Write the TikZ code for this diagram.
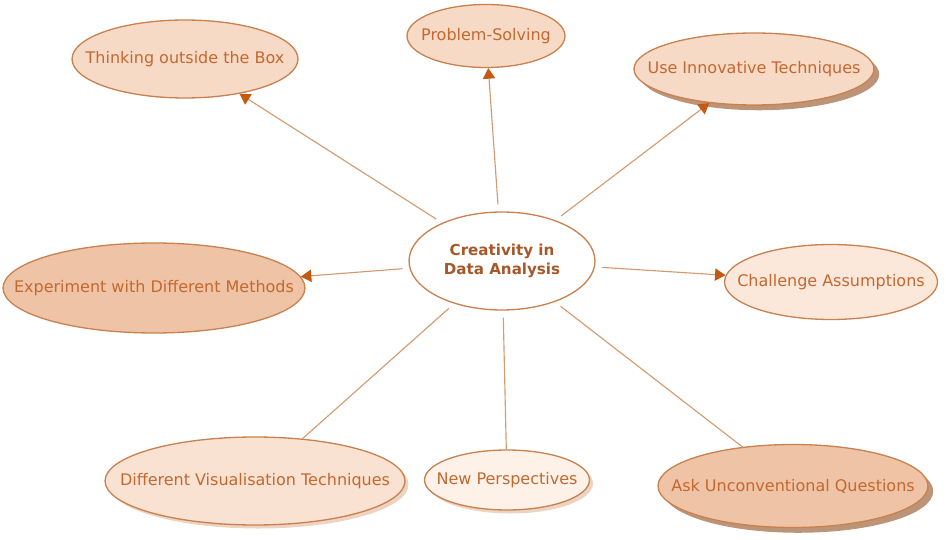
\documentclass[tikz,border=0pt]{standalone}
\usepackage{fontspec}
\setmainfont{DejaVu Sans}
\usepackage{xcolor}
\usetikzlibrary{arrows.meta, shapes.geometric, shadows}

\definecolor{rim}{HTML}{C8814F}
\definecolor{ink}{HTML}{C4682F}
\definecolor{wire}{HTML}{D49B72}
\definecolor{tip}{HTML}{C45A12}
\definecolor{fillA}{HTML}{F7DAC6}
\definecolor{fillB}{HTML}{EFC4A6}
\definecolor{fillC}{HTML}{FCE8DA}
\definecolor{fillD}{HTML}{FDF1E8}
\definecolor{fillE}{HTML}{F9E2D2}

% text that does not widen its ellipse
\newcommand{\ideatext}[1]{\makebox[0pt]{#1}}

\begin{document}
\begin{tikzpicture}[x=0.02cm, y=-0.02cm,
    every node/.style={font=\fontsize{9.1}{11}\selectfont},
    idea/.style={ellipse, draw=rim, line width=0.75pt, inner sep=0pt, text=ink, align=center},
    hub/.style={idea, fill=white, text=ink!85!black, font=\fontsize{8.6}{10.8}\selectfont\bfseries},
    shade/.style={drop shadow={shadow xshift=3pt, shadow yshift=-3pt, fill=rim!80!black, opacity=0.7}},
    softshade/.style={drop shadow={shadow xshift=2pt, shadow yshift=-2pt, fill=rim, opacity=0.35}},
    link/.style={draw=wire, line width=0.65pt, shorten <=4pt},
    arrow/.style={link, -{Triangle[length=6pt, width=7pt, fill=tip, color=tip]}},
]
\useasboundingbox (0,0) rectangle (946,540);

% Nodes
\node[hub, minimum width=3.72cm, minimum height=1.96cm] (core) at (502,261) {Creativity in\\Data Analysis};

\node[idea, fill=fillA, minimum width=4.52cm, minimum height=1.56cm] (box) at (185,59) {\ideatext{Thinking outside the Box}};
\node[idea, fill=fillA, minimum width=3.16cm, minimum height=1.26cm] (solve) at (486,36) {\ideatext{Problem-Solving}};
\node[idea, fill=fillA, shade, minimum width=4.8cm, minimum height=1.44cm] (innov) at (754,69) {\ideatext{Use Innovative Techniques}};
\node[idea, fill=fillB, minimum width=6.04cm, minimum height=1.8cm] (exper) at (154,288) {\ideatext{Experiment with Different Methods}};
\node[idea, fill=fillC, minimum width=4.26cm, minimum height=1.5cm] (assume) at (831,282) {\ideatext{Challenge Assumptions}};
\node[idea, fill=fillE, softshade, minimum width=6.0cm, minimum height=1.76cm] (visual) at (255,481) {\ideatext{Different Visualisation Techniques}};
\node[idea, fill=fillD, softshade, minimum width=3.3cm, minimum height=1.2cm] (persp) at (507,480) {\ideatext{New Perspectives}};
\node[idea, fill=fillB, shade, minimum width=5.4cm, minimum height=1.66cm] (quest) at (793,486) {\ideatext{Ask Unconventional Questions}};

% Edges
\draw[arrow] (core) -- (box);
\draw[arrow] (core) -- (solve);
\draw[arrow] (core) -- (innov);
\draw[arrow] (core) -- (exper);
\draw[arrow] (core) -- (assume);
\draw[link] (core) -- (visual);
\draw[link] (core) -- (persp);
\draw[link] (core) -- (quest);

\end{tikzpicture}
\end{document}
